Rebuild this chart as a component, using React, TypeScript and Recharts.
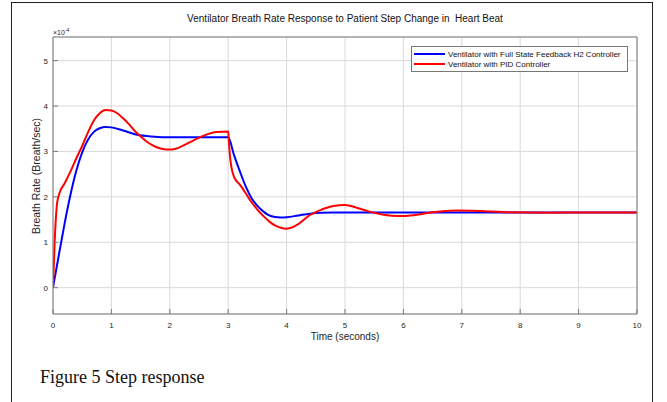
import React from 'react';
import { LineChart, Line, XAxis, YAxis, CartesianGrid } from 'recharts';

// values in units of 1e-4 breath/sec, as shown on the axis
const h2Time = [0, 0.1, 0.2, 0.3, 0.4, 0.5, 0.6, 0.7, 0.8, 0.9, 1.0, 1.2, 1.4, 1.6, 1.8, 2.0, 2.5, 3.0,
  3.1, 3.2, 3.3, 3.4, 3.5, 3.6, 3.7, 3.8, 3.9, 4.0, 4.2, 4.4, 4.6, 4.8, 5, 6, 7, 8, 9, 10];
const h2Rate = [0, 0.72, 1.42, 2.05, 2.58, 2.98, 3.26, 3.43, 3.51, 3.54, 3.53, 3.46, 3.38, 3.34, 3.32, 3.31, 3.31, 3.31,
  2.92, 2.56, 2.23, 1.97, 1.8, 1.68, 1.59, 1.555, 1.545, 1.55, 1.59, 1.63, 1.65, 1.655, 1.655, 1.655, 1.655, 1.655, 1.655, 1.655];

const pidTime = [0, 0.03, 0.07, 0.11, 0.2, 0.3, 0.4, 0.5, 0.6, 0.7, 0.8, 0.9, 1.0, 1.1, 1.2, 1.3, 1.4, 1.5, 1.6, 1.7,
  1.8, 1.9, 2.0, 2.1, 2.2, 2.4, 2.6, 2.8, 3.0, 3.01, 3.03, 3.06, 3.1, 3.2, 3.3, 3.4, 3.5, 3.6, 3.7, 3.8, 3.9, 4.0,
  4.1, 4.2, 4.4, 4.6, 4.8, 5.0, 5.2, 5.4, 5.6, 5.8, 6.0, 6.2, 6.5, 6.9, 7.3, 7.8, 8.5, 9, 10];
const pidRate = [0, 1.05, 1.86, 2.08, 2.3, 2.56, 2.85, 3.12, 3.42, 3.68, 3.84, 3.91, 3.9, 3.84, 3.73, 3.6, 3.45, 3.33, 3.22, 3.14,
  3.08, 3.05, 3.04, 3.06, 3.11, 3.24, 3.36, 3.43, 3.44, 3.25, 2.9, 2.62, 2.44, 2.27, 2.08, 1.88, 1.72, 1.58, 1.46, 1.37, 1.32, 1.30,
  1.33, 1.40, 1.6, 1.72, 1.80, 1.82, 1.76, 1.68, 1.62, 1.585, 1.58, 1.6, 1.66, 1.70, 1.69, 1.66, 1.65, 1.655, 1.655];

const xTicks = [0, 1, 2, 3, 4, 5, 6, 7, 8, 9, 10];
const yTicks = [0, 1, 2, 3, 4, 5];

const h2Data = h2Time.map((t, i) => ({ t, v: h2Rate[i] }));
const pidData = pidTime.map((t, i) => ({ t, v: pidRate[i] }));

const FONT = '"Liberation Sans", Arial, Helvetica, sans-serif';
const AXIS = '#7a7a7a';
const TXT = '#262626';

const BottomTick = (props: any) => {
  const { x, y, payload } = props;
  return (
    <g>
      <line x1={x} x2={x} y1={y} y2={y - 5} stroke={AXIS} />
      <text x={x} y={y + 14} textAnchor="middle" fontSize={8} fill={TXT} fontFamily={FONT}>{payload.value}</text>
    </g>
  );
};

const TopTick = (props: any) => {
  const { x, y } = props;
  return <line x1={x} x2={x} y1={y} y2={y + 5} stroke={AXIS} />;
};

const LeftTick = (props: any) => {
  const { x, y, payload } = props;
  return (
    <g>
      <line x1={x} x2={x + 5} y1={y} y2={y} stroke={AXIS} />
      <text x={x - 5} y={y + 3} textAnchor="end" fontSize={8} fill={TXT} fontFamily={FONT}>{payload.value}</text>
    </g>
  );
};

const RightTick = (props: any) => {
  const { x, y } = props;
  return <line x1={x} x2={x - 5} y1={y} y2={y} stroke={AXIS} />;
};

export default function App() {
  return (
    <div style={{ position: 'absolute', left: 0, top: 0, width: 667, height: 402, background: '#fff', overflow: 'hidden' }}>
      <div style={{ position: 'absolute', left: 11, top: 2, width: 640, height: 420, border: '1.5px solid #222' }} />
      <LineChart width={667} height={402} margin={{ top: 36, right: 29, bottom: 68, left: 33 }}>
        <CartesianGrid stroke="#d9d9d9" strokeWidth={1} />
        <XAxis type="number" dataKey="t" domain={[0, 10]} ticks={xTicks} height={20} stroke={AXIS}
          tickLine={false} tickSize={0} tickMargin={0} tick={<BottomTick />} interval={0} allowDataOverflow />
        <XAxis xAxisId="top" orientation="top" type="number" dataKey="t" domain={[0, 10]} ticks={xTicks} height={1}
          stroke={AXIS} tickLine={false} tickSize={0} tickMargin={0} tick={<TopTick />} interval={0} />
        <YAxis type="number" domain={[-0.58, 5.52]} ticks={yTicks} width={20} stroke={AXIS}
          tickLine={false} tickSize={0} tickMargin={0} tick={<LeftTick />} interval={0} allowDataOverflow />
        <YAxis yAxisId="r" orientation="right" type="number" domain={[-0.58, 5.52]} ticks={yTicks} width={1}
          stroke={AXIS} tickLine={false} tickSize={0} tickMargin={0} tick={<RightTick />} interval={0} />
        <Line data={h2Data} dataKey="v" type="monotone" stroke="#0000ff" strokeWidth={2} dot={false} isAnimationActive={false} />
        <Line data={pidData} dataKey="v" type="monotone" stroke="#ff0000" strokeWidth={2} dot={false} isAnimationActive={false} />
      </LineChart>
      <div style={{ position: 'absolute', left: 53, width: 584, top: 13, textAlign: 'center', fontFamily: FONT, fontSize: 10, color: '#111', whiteSpace: 'pre' }}>
        Ventilator Breath Rate Response to Patient Step Change in  Heart Beat
      </div>
      <div style={{ position: 'absolute', left: 53, top: 27, fontFamily: FONT, fontSize: 7, color: TXT }}>
        ×10<sup style={{ fontSize: 5 }}>-4</sup>
      </div>
      <div style={{ position: 'absolute', left: 345 - 60, width: 120, top: 331, textAlign: 'center', fontFamily: FONT, fontSize: 10, color: TXT }}>
        Time (seconds)
      </div>
      <div style={{ position: 'absolute', left: 36 - 70, width: 140, top: 176 - 6, textAlign: 'center', fontFamily: FONT, fontSize: 10.5, color: TXT, transform: 'rotate(-90deg)', lineHeight: '12px' }}>
        Breath Rate (Breath/sec)
      </div>
      <div style={{ position: 'absolute', left: 411, top: 46, width: 215, height: 24, border: '1px solid #777', background: '#fff', fontFamily: FONT, fontSize: 8, color: '#111' }}>
        <div style={{ position: 'absolute', left: 2, top: 2, display: 'flex', alignItems: 'center', height: 10 }}>
          <span style={{ display: 'inline-block', width: 31, height: 2, background: '#0000ff', marginRight: 3 }} />
          Ventilator with Full State Feedback H2 Controller
        </div>
        <div style={{ position: 'absolute', left: 2, top: 12, display: 'flex', alignItems: 'center', height: 10 }}>
          <span style={{ display: 'inline-block', width: 31, height: 2, background: '#ff0000', marginRight: 3 }} />
          Ventilator with PID Controller
        </div>
      </div>
      <div style={{ position: 'absolute', left: 40, top: 367, fontFamily: '"Liberation Serif", "Times New Roman", serif', fontSize: 18, color: '#111' }}>
        Figure 5 Step response
      </div>
    </div>
  );
}
